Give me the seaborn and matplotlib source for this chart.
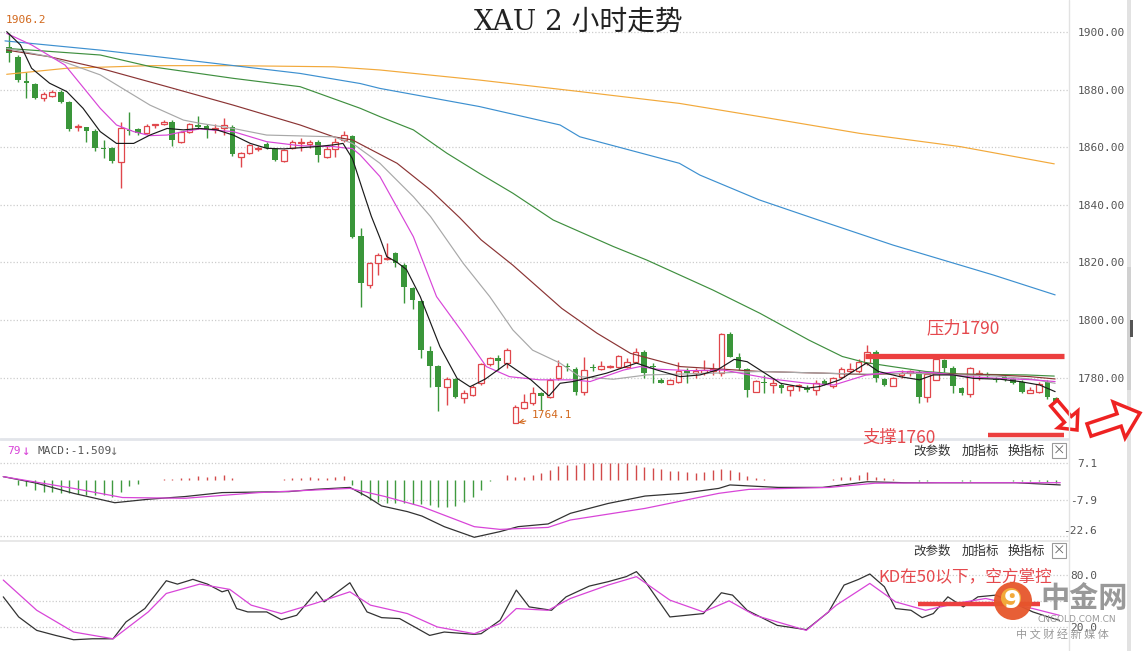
import matplotlib
matplotlib.use("Agg")
import matplotlib.pyplot as plt
from matplotlib.patches import FancyArrow, Circle, Rectangle
import seaborn as sns
import numpy as np
import pandas as pd


# 2h candles (index 0 = left edge)
opens = [1894.9, 1891.4, 1883.0, 1881.9, 1877.2, 1877.9, 1879.3, 1875.6, 1867.0, 1866.9,
         1865.6, 1859.8, 1859.8, 1855.0, 1866.0, 1866.3, 1864.8, 1867.7, 1867.9, 1868.6,
         1861.7, 1865.1, 1867.7, 1867.5, 1866.3, 1866.5, 1867.1, 1856.7, 1857.9, 1859.3,
         1861.0, 1859.4, 1855.2, 1859.6, 1861.3, 1861.2, 1861.9, 1856.7, 1859.4, 1862.5,
         1863.7, 1829.2, 1812.1, 1819.7, 1821.0, 1823.4, 1819.1, 1811.0, 1806.7, 1789.2,
         1784.0, 1776.6, 1779.4, 1772.8, 1773.9, 1778.0, 1784.7, 1786.7, 1785.2, 1764.3,
         1769.3, 1771.1, 1774.8, 1773.4, 1779.7, 1784.1, 1782.9, 1775.1, 1783.8, 1782.9,
         1783.6, 1783.8, 1783.8, 1785.5, 1789.0, 1784.0, 1779.2, 1777.8, 1778.6, 1782.1,
         1781.5, 1781.5, 1782.4, 1781.5, 1795.1, 1787.3, 1782.9, 1775.1, 1778.6, 1777.4,
         1777.4, 1775.7, 1776.9, 1776.3, 1775.7, 1778.9, 1777.1, 1780.1, 1782.1, 1782.1,
         1785.0, 1789.0, 1779.4, 1777.1, 1780.9, 1781.5, 1782.0, 1773.4, 1779.2, 1786.1,
         1783.2, 1776.3, 1774.3, 1781.2, 1781.2, 1779.6, 1780.3, 1779.4, 1778.6, 1774.7,
         1775.1, 1778.6, 1773.0]
highs = [1899.5, 1892.0, 1886.2, 1882.2, 1879.3, 1879.8, 1879.7, 1876.0, 1868.2, 1867.1,
         1866.3, 1862.5, 1860.2, 1868.8, 1872.1, 1866.8, 1867.9, 1868.2, 1869.4, 1869.4,
         1865.6, 1868.4, 1870.9, 1867.9, 1867.9, 1870.0, 1867.7, 1858.4, 1861.0, 1860.5,
         1861.7, 1859.6, 1859.4, 1862.5, 1863.1, 1862.5, 1862.5, 1860.5, 1863.1, 1865.6,
         1864.2, 1831.8, 1820.2, 1823.1, 1826.6, 1823.7, 1819.7, 1811.6, 1806.9, 1791.0,
         1784.4, 1780.3, 1779.7, 1775.5, 1777.4, 1785.2, 1787.0, 1787.8, 1790.2, 1770.5,
         1774.3, 1776.8, 1775.1, 1779.7, 1786.1, 1785.2, 1783.8, 1787.3, 1784.7, 1785.8,
         1784.4, 1787.8, 1786.7, 1790.2, 1789.4, 1785.0, 1779.7, 1779.5, 1785.5, 1783.2,
         1783.2, 1786.1, 1785.0, 1795.4, 1795.9, 1788.4, 1783.2, 1779.2, 1780.9, 1779.7,
         1778.2, 1777.4, 1777.8, 1777.4, 1779.2, 1779.4, 1780.3, 1783.8, 1785.2, 1786.3,
         1791.3, 1789.4, 1779.7, 1780.3, 1782.6, 1782.6, 1782.6, 1782.0, 1787.0, 1786.5,
         1784.0, 1776.8, 1783.8, 1782.7, 1781.8, 1780.3, 1780.8, 1779.8, 1779.0, 1776.8,
         1778.6, 1779.2, 1773.4]
lows = [1889.4, 1882.7, 1877.2, 1876.7, 1876.0, 1877.5, 1875.4, 1865.6, 1865.6, 1861.9,
        1858.7, 1856.1, 1854.4, 1845.7, 1864.2, 1864.2, 1864.4, 1866.8, 1867.7, 1860.5,
        1861.3, 1864.8, 1866.3, 1863.1, 1864.8, 1864.2, 1857.1, 1853.2, 1857.5, 1858.8,
        1859.4, 1855.2, 1855.0, 1859.4, 1858.7, 1859.6, 1855.0, 1856.1, 1856.7, 1861.9,
        1828.4, 1804.6, 1811.0, 1815.6, 1820.8, 1818.5, 1805.8, 1803.7, 1786.7, 1776.8,
        1768.5, 1770.5, 1772.8, 1771.1, 1773.6, 1777.4, 1784.0, 1782.6, 1783.2, 1764.1,
        1769.0, 1770.5, 1768.7, 1772.8, 1779.2, 1782.1, 1774.0, 1774.0, 1782.4, 1782.6,
        1783.2, 1783.2, 1783.4, 1785.2, 1779.7, 1778.0, 1778.0, 1777.6, 1778.2, 1778.0,
        1779.7, 1780.9, 1780.9, 1780.6, 1787.0, 1782.6, 1773.4, 1775.0, 1774.5, 1774.5,
        1774.8, 1773.6, 1775.3, 1775.1, 1774.0, 1777.4, 1776.3, 1779.4, 1781.7, 1781.5,
        1784.4, 1778.6, 1776.9, 1776.9, 1779.7, 1780.6, 1771.1, 1771.6, 1779.0, 1782.0,
        1774.5, 1774.0, 1773.4, 1779.2, 1779.8, 1778.5, 1778.8, 1777.6, 1774.7, 1774.5,
        1774.5, 1772.4, 1770.2]
closes = [1892.6, 1883.3, 1882.2, 1877.2, 1878.3, 1879.3, 1875.8, 1866.3, 1867.5, 1865.6,
          1859.8, 1859.4, 1855.2, 1866.5, 1865.6, 1864.8, 1867.5, 1867.9, 1868.8, 1862.5,
          1865.1, 1867.9, 1867.1, 1866.0, 1866.8, 1867.7, 1857.5, 1857.9, 1860.8, 1859.7,
          1859.6, 1855.5, 1859.0, 1861.7, 1861.9, 1861.7, 1857.3, 1859.4, 1861.9, 1864.2,
          1828.9, 1812.7, 1819.7, 1822.6, 1821.4, 1819.7, 1811.6, 1806.9, 1789.6, 1784.0,
          1776.8, 1779.4, 1773.4, 1774.5, 1776.6, 1784.7, 1786.7, 1785.9, 1789.6, 1769.9,
          1771.6, 1774.5, 1773.6, 1779.2, 1784.0, 1783.6, 1775.1, 1782.6, 1783.2, 1784.0,
          1783.9, 1787.5, 1785.5, 1789.0, 1781.5, 1783.6, 1778.2, 1779.2, 1782.1, 1781.5,
          1782.3, 1782.6, 1782.9, 1795.1, 1787.3, 1783.2, 1775.5, 1778.9, 1778.0, 1778.0,
          1776.5, 1776.9, 1777.3, 1775.7, 1778.2, 1777.8, 1779.7, 1782.9, 1782.9, 1785.5,
          1788.7, 1779.7, 1777.4, 1779.7, 1781.7, 1782.1, 1773.4, 1781.2, 1786.3, 1783.2,
          1776.9, 1774.5, 1783.2, 1781.6, 1780.6, 1779.2, 1779.2, 1778.2, 1775.1, 1775.5,
          1777.8, 1773.4, 1770.5]

# moving averages, sampled points (bar index, price)
ma5_x = [-0.3, 1.3, 2.6, 4.7, 6.7, 8.6, 10.6, 12.5, 14.5, 16.4, 18.4, 20.3, 22.2, 24.2, 26.1,
         28.1, 30.0, 32.0, 33.9, 35.9, 37.8, 38.9, 40.0, 41.2, 42.2, 43.2, 44.0, 45.2, 46.3,
         47.9, 50.2, 52.2, 53.7, 55.5, 58.0, 60.8, 62.9, 64.2, 65.7, 69.6, 73.1, 75.5, 78.2,
         80.5, 82.5, 84.5, 86.0, 88.4, 89.9, 93.0, 94.5, 96.8, 99.9, 101.3, 103.8, 106.1,
         107.7, 110.0, 112.4, 115.5, 117.8, 120.1, 121.9]
ma5_y = [1900.1, 1895.5, 1887.4, 1882.2, 1879.3, 1873.5, 1865.4, 1861.3, 1861.3, 1864.2,
         1866.5, 1866.0, 1866.5, 1866.0, 1864.2, 1861.3, 1859.6, 1859.4, 1859.8, 1860.2,
         1860.8, 1861.3, 1856.0, 1845.0, 1836.0, 1828.5, 1822.0, 1820.0, 1817.5, 1808.1,
         1790.7, 1779.7, 1776.8, 1779.5, 1784.9, 1779.2, 1773.6, 1778.0, 1778.6, 1781.5,
         1785.0, 1782.6, 1780.3, 1780.9, 1782.6, 1786.3, 1785.5, 1780.9, 1778.0, 1776.3,
         1776.9, 1779.2, 1785.0, 1782.1, 1780.3, 1779.2, 1780.9, 1780.9, 1779.7, 1779.4,
         1778.6, 1777.4, 1775.1]
ma10_x = [-0.3, 2.6, 6.5, 10.6, 12.5, 14.5, 16.4, 18.4, 20.3, 22.2, 26.1, 30.0, 33.9, 37.8,
          38.9, 40.0, 40.9, 43.2, 47.1, 49.8, 52.9, 55.6, 58.3, 61.8, 65.7, 67.7, 71.6, 73.5,
          75.5, 79.4, 83.3, 85.2, 89.1, 93.0, 96.1, 99.9, 103.8, 107.7, 111.6, 115.5, 119.4,
          121.9]
ma10_y = [1899.5, 1895.5, 1888.5, 1873.5, 1867.7, 1865.4, 1864.0, 1864.2, 1865.4, 1866.3,
          1865.4, 1861.9, 1860.5, 1860.2, 1859.8, 1859.5, 1857.3, 1849.8, 1828.9, 1808.1,
          1795.4, 1783.8, 1780.3, 1779.2, 1779.2, 1778.6, 1782.6, 1783.8, 1782.9, 1782.4,
          1782.6, 1781.5, 1779.4, 1778.0, 1777.4, 1780.9, 1782.1, 1781.7, 1780.3, 1779.7,
          1779.2, 1778.6]
ma20_x = [-0.3, 4.7, 10.6, 16.4, 20.3, 22.2, 26.1, 30.0, 37.8, 40.0, 43.2, 47.1, 49.1, 52.9,
          56.0, 58.7, 61.0, 64.2, 66.5, 70.4, 74.3, 82.0, 87.5, 95.0, 100.0, 105.0, 110.0,
          115.0, 119.0, 121.9]
ma20_y = [1894.3, 1891.4, 1885.1, 1874.6, 1869.4, 1868.3, 1866.5, 1864.2, 1863.6, 1861.3,
          1854.4, 1842.8, 1835.9, 1819.7, 1808.1, 1796.5, 1789.5, 1785.0, 1780.3, 1779.4,
          1780.9, 1781.5, 1782.1, 1781.5, 1781.2, 1781.5, 1781.0, 1780.5, 1779.5, 1778.0]
ma30_x = [-0.3, 4.7, 10.6, 18.4, 26.1, 33.9, 37.8, 40.0, 45.2, 49.1, 52.5, 55.0, 58.7, 64.4,
          68.5, 72.4, 78.2, 87.5, 95.0, 100.0, 105.0, 110.0, 115.0, 119.0, 121.9]
ma30_y = [1893.7, 1891.4, 1887.4, 1881.0, 1874.6, 1867.7, 1863.6, 1862.5, 1854.4, 1845.1,
          1835.5, 1827.8, 1819.0, 1804.0, 1795.4, 1788.4, 1783.8, 1782.1, 1781.5, 1781.0,
          1781.5, 1781.2, 1780.9, 1780.3, 1779.5]
ma60_x = [-0.3, 10.6, 16.4, 26.1, 33.9, 40.9, 43.2, 47.1, 51.0, 54.8, 58.7, 63.4, 70.4, 74.3,
          82.0, 87.5, 93.2, 97.1, 99.8, 102.9, 106.8, 110.7, 118.5, 121.8]
ma60_y = [1894.3, 1892.0, 1888.0, 1883.9, 1881.0, 1873.5, 1870.6, 1866.0, 1857.9, 1850.9,
          1844.0, 1834.7, 1825.5, 1820.8, 1810.4, 1802.3, 1793.0, 1787.3, 1785.2, 1783.8,
          1782.1, 1781.2, 1780.9, 1780.5]
ma120_x = [-0.5, 10.6, 22.2, 33.9, 40.9, 43.2, 54.8, 64.2, 66.5, 78.1, 80.5, 87.4, 94.3,
           103.0, 114.7, 121.9]
ma120_y = [1896.9, 1893.7, 1889.7, 1885.6, 1882.1, 1880.4, 1874.1, 1867.7, 1863.6, 1854.4,
           1850.3, 1841.7, 1834.7, 1826.0, 1815.6, 1808.7]
ma250_x = [-0.3, 6.7, 16.4, 26.1, 37.8, 43.2, 54.8, 66.5, 78.1, 87.5, 99.1, 110.8, 121.8]
ma250_y = [1885.3, 1887.4, 1888.3, 1888.3, 1887.9, 1886.8, 1883.3, 1879.3, 1875.2, 1870.6,
           1864.8, 1860.2, 1854.2]

# MACD panel
macd_hist = [0.0, -1.76, -2.43, -3.78, -4.46, -4.46, -5.14, -5.14, -5.41, -5.81,
             -5.81, -5.81, -6.49, -4.46, -2.16, -1.35, 0.27, 0.1, 0.54, 0.54,
             0.95, 1.2, 1.9, 1.6, 1.9, 2.3, 0.95, 0.2, 0.2, 0.2,
             0.2, 0.2, 0.54, 0.95, 0.95, 1.35, 0.95, 1.2, 1.35, 1.9,
             -1.76, -5.81, -7.84, -8.51, -8.92, -8.92, -9.19, -9.46, -9.46, -9.86,
             -10.8, -10.8, -10.5, -8.51, -6.49, -3.78, -0.4, 0.1, 2.3, 1.6,
             1.6, 2.3, 2.97, 4.05, 5.68, 6.35, 6.35, 7.0, 7.0, 7.0,
             7.0, 7.0, 7.0, 6.35, 5.4, 5.0, 4.6, 3.65, 3.65, 3.24,
             2.97, 3.24, 4.3, 4.6, 4.05, 3.24, 1.9, 0.95, 0.54, 0.27,
             0.1, 0.1, 0.0, 0.27, 0.1, 0.27, 0.54, 1.35, 1.6, 2.3,
             3.24, 1.6, 0.95, 0.54, 0.27, 0.1, -0.3, -0.4, 0.3, 0.4,
             0.2, -0.3, -0.2, 0.1, 0.1, 0.1, 0.0, -0.1, -0.3, -0.4,
             -0.4, -0.6, -0.9]
dif_x = [-0.7, 3.2, 7.5, 12.3, 16.2, 20.5, 24.8, 32.6, 35.6, 39.7, 41.7, 43.4, 46.4, 48.1,
         50.7, 54.2, 57.2, 59.3, 62.8, 65.4, 69.8, 74.1, 78.4, 82.7, 84.0, 86.2, 89.6, 94.8,
         100.0, 104.3, 108.6, 117.3, 122.5]
dif_y = [1.56, -1.1, -5.2, -9.0, -7.6, -6.5, -4.9, -4.5, -3.6, -2.8, -6.5, -10.3, -12.6, -14.4,
         -18.7, -23.0, -20.7, -18.7, -17.6, -13.3, -9.3, -6.3, -5.2, -3.2, -1.8, -2.2, -2.8, -2.8,
         -0.5, -0.9, -0.9, -0.9, -1.8]
dea_x = [-0.7, 7.5, 13.2, 20.5, 29.1, 39.7, 43.8, 48.1, 54.2, 57.2, 62.8, 65.4, 74.1, 82.7,
         86.2, 95.6, 100.9, 108.6, 122.5]
dea_y = [1.56, -3.2, -6.9, -7.2, -4.9, -3.2, -6.5, -10.6, -18.7, -19.8, -19.0, -16.0, -11.3,
         -5.2, -3.6, -2.8, -1.1, -0.9, -0.9]

# KD panel
k_x = [-0.7, 1.1, 3.2, 5.4, 7.5, 9.7, 12.1, 13.6, 15.8, 18.3, 19.6, 21.4, 23.1, 24.8, 25.5,
       26.5, 27.8, 30.0, 31.7, 33.5, 35.8, 36.7, 39.7, 41.7, 43.4, 45.5, 49.0, 50.7, 54.2,
       55.0, 57.2, 59.1, 60.6, 63.2, 64.9, 67.6, 69.8, 71.9, 73.1, 74.0, 77.0, 80.9, 83.0,
       84.3, 86.0, 89.5, 92.9, 95.5, 97.3, 99.0, 100.3, 102.0, 103.3, 105.1, 106.4, 107.7,
       109.4, 111.2, 112.9, 115.0, 117.0, 119.3, 121.1, 122.4]
k_y = [54.8, 31.6, 16.1, 10.3, 5.3, 6.4, 6.4, 25.8, 41.3, 73.4, 69.5, 75.0, 69.5, 60.6, 62.6,
       41.3, 37.4, 37.4, 28.5, 33.5, 60.6, 49.0, 71.1, 37.4, 30.8, 29.7, 10.3, 14.2, 11.5,
       12.3, 27.7, 62.6, 43.2, 39.3, 54.8, 67.2, 72.3, 78.1, 83.9, 74.2, 31.6, 35.5, 59.5,
       56.8, 39.3, 21.9, 16.9, 37.4, 68.4, 75.0, 81.2, 66.5, 41.3, 39.3, 30.8, 35.5,
       54.8, 43.2, 54.8, 56.8, 48.0, 37.4, 31.6, 27.7]
d_x = [-0.7, 3.2, 7.5, 12.1, 16.2, 18.3, 22.2, 25.7, 28.2, 31.7, 35.6, 39.7, 42.1, 46.4, 49.9,
       54.2, 57.2, 59.1, 62.8, 65.4, 69.8, 73.1, 77.0, 80.9, 83.9, 86.9, 92.9, 96.4, 100.3,
       103.3, 106.8, 110.3, 113.8, 117.0, 119.3, 122.4]
d_y = [74.2, 39.3, 14.2, 6.4, 37.4, 58.7, 69.5, 63.4, 45.2, 35.5, 47.1, 60.6, 45.2, 35.5, 20.0,
       12.3, 23.9, 41.3, 39.3, 52.9, 68.4, 78.1, 51.0, 37.4, 50.2, 33.5, 16.1, 45.2, 70.3,
       49.0, 39.3, 47.1, 52.9, 46.0, 41.3, 33.5]

price_ticks = [1780, 1800, 1820, 1840, 1860, 1880, 1900]
macd_ticks = [-22.6, -7.9, 7.1]
kd_ticks = [20, 50, 80]

RED = "#e0474c"
GREEN = "#3a963a"
ANNO = "#ec3f3f"
MONO = "DejaVu Sans Mono"
CJK = ["Noto Sans CJK SC", "DejaVu Sans"]

sns.set_theme(style="white")
plt.rcParams["font.family"] = CJK

W, H = 1146, 651
fig = plt.figure(figsize=(W / 100, H / 100), dpi=100)


def px_axes(left, top, right, bottom):
    return fig.add_axes([left / W, 1 - bottom / H, (right - left) / W, (bottom - top) / H])


ax = px_axes(0, 0, 1068, 438)
ax_macd = px_axes(0, 440, 1068, 540)
ax_kd = px_axes(0, 542, 1068, 651)

XLIM = (-1.08, 123.4)
for a in (ax, ax_macd, ax_kd):
    a.set_xlim(*XLIM)
    a.set_xticks([])
    sns.despine(ax=a, left=True, bottom=True, right=True, top=True)
    a.yaxis.grid(True, linestyle=(0, (1, 1.6)), color="#cdcdcd", linewidth=0.9)
    a.xaxis.grid(False)
    a.yaxis.tick_right()

# ---- candles ----
df = pd.DataFrame({"o": opens, "h": highs, "l": lows, "c": closes})
df["i"] = np.arange(len(df))
up = df[df["c"] >= df["o"]]
dn = df[df["c"] < df["o"]]
bw = 0.66

ax.vlines(dn["i"], dn["l"], dn["h"], color=GREEN, lw=1.0, zorder=2)
ax.bar(dn["i"], (dn["o"] - dn["c"]).clip(lower=0.3), bottom=dn["c"], width=bw,
       color=GREEN, linewidth=0, zorder=2)
ax.vlines(up["i"], up["c"], up["h"], color=RED, lw=1.0, zorder=2)
ax.vlines(up["i"], up["l"], up["o"], color=RED, lw=1.0, zorder=2)
ax.bar(up["i"], (up["c"] - up["o"]).clip(lower=0.3), bottom=up["o"], width=bw,
       facecolor="white", edgecolor=RED, linewidth=0.9, zorder=2)

ma_lines = [
    (ma250_x, ma250_y, "#f2a93b"),
    (ma120_x, ma120_y, "#3d90d0"),
    (ma60_x, ma60_y, "#3f8f3f"),
    (ma30_x, ma30_y, "#8b3434"),
    (ma20_x, ma20_y, "#a8a8a8"),
    (ma10_x, ma10_y, "#d845d8"),
    (ma5_x, ma5_y, "#1a1a1a"),
]
for xs, ys, col in ma_lines:
    sns.lineplot(x=xs, y=ys, ax=ax, color=col, linewidth=0.85, sort=False,
                 estimator=None, legend=False, zorder=3)

ax.set_ylim(1759.0, 1911.1)
ax.set_yticks(price_ticks)
ax.set_yticklabels([f"{v:.2f}" for v in price_ticks])
ax.tick_params(axis="y", length=0, pad=7, labelsize=8, labelcolor="#555555")
for lbl in ax.get_yticklabels():
    lbl.set_fontfamily(MONO)
ax.set_ylabel("")

# pressure / support levels
ax.hlines(1787.5, 99.7, 122.9, color=ANNO, lw=3.8, zorder=4)
ax.hlines(1760.1, 114.1, 122.9, color=ANNO, lw=3.2, zorder=4, clip_on=False)
ax.text(111.2, 1797.0, "压力1790", color="#e5484d", fontsize=12.5, ha="center", va="center")
ax.annotate("1764.1", xy=(59, 1764.1), xytext=(60.9, 1767.0), color="#d2691e",
            fontsize=8, family=MONO, va="center",
            arrowprops=dict(arrowstyle="->", color="#d2691e", lw=0.8))

# ---- MACD ----
hist = pd.Series(macd_hist)
hi = np.arange(len(hist))
ax_macd.vlines(hi[hist >= 0], 0, hist[hist >= 0], color="#d24a4a", lw=1.0)
ax_macd.vlines(hi[hist < 0], 0, hist[hist < 0], color="#3f9a3f", lw=1.0)
sns.lineplot(x=dif_x, y=dif_y, ax=ax_macd, color="#333333", linewidth=0.9, sort=False,
             estimator=None, legend=False)
sns.lineplot(x=dea_x, y=dea_y, ax=ax_macd, color="#d845d8", linewidth=0.9, sort=False,
             estimator=None, legend=False)
ax_macd.set_ylim(-24.1, 16.4)
ax_macd.set_yticks(macd_ticks)
ax_macd.set_yticklabels([f"{v:.1f}" for v in macd_ticks])
ax_macd.tick_params(axis="y", length=0, pad=21, labelsize=8, labelcolor="#555555")
for lbl in ax_macd.get_yticklabels():
    lbl.set_fontfamily(MONO)
    lbl.set_ha("right")
ax_macd.get_yticklabels()[0].set_va("bottom")

# ---- KD ----
sns.lineplot(x=k_x, y=k_y, ax=ax_kd, color="#333333", linewidth=0.9, sort=False,
             estimator=None, legend=False)
sns.lineplot(x=d_x, y=d_y, ax=ax_kd, color="#d845d8", linewidth=0.9, sort=False,
             estimator=None, legend=False)
ax_kd.set_ylim(-7.7, 118.1)
ax_kd.set_yticks(kd_ticks)
ax_kd.set_yticklabels(["20.0", "", "80.0"])
ax_kd.tick_params(axis="y", length=0, pad=21, labelsize=8, labelcolor="#555555")
for lbl in ax_kd.get_yticklabels():
    lbl.set_fontfamily(MONO)
    lbl.set_ha("right")
ax_kd.hlines(46.5, 105.9, 120.1, color=ANNO, lw=3.2, zorder=4)
ax_kd.text(111.4, 77.7, "KD在50以下，空方掌控", color="#e5484d", fontsize=12,
           ha="center", va="center")

# ---- overlay in pixel space: frames, headers, arrows, watermark ----
ov = fig.add_axes([0, 0, 1, 1], zorder=10)
ov.set_xlim(0, W)
ov.set_ylim(H, 0)
ov.axis("off")
ov.patch.set_alpha(0)

ov.plot([0, 1068], [439, 439], color="#e2e5ea", lw=2)
ov.plot([0, 1068], [541, 541], color="#e4e4e4", lw=1.2)
ov.plot([1069, 1069], [0, H], color="#e2e2e2", lw=1)
ov.add_patch(Rectangle((1127, 0), 4, H, color="#e2e2e2", lw=0))
ov.add_patch(Rectangle((1127, 267), 4, 123, color="#d0d0d0", lw=0))
ov.add_patch(Rectangle((1130, 320), 3, 17, color="#555555", lw=0))

ov.text(578, 22, "XAU 2 小时走势", fontsize=20, ha="center", va="center",
        color="#222222", family=["DejaVu Serif", "Noto Sans CJK SC"])
ov.text(6, 20, "1906.2", fontsize=8, color="#d2691e", family=MONO, va="center")

ov.text(7, 451, "79", fontsize=8, color="#d845d8", family=MONO, va="center")
ov.text(21, 451, "↓", fontsize=10, color="#d845d8", family=MONO, va="center")
ov.text(37, 451, "MACD:-1.509", fontsize=8, color="#555555", family=MONO, va="center")
ov.text(109, 451, "↓", fontsize=10, color="#777777", family=MONO, va="center")

for yh in (451, 551):
    for xc, s in ((932, "改参数"), (980, "加指标"), (1026, "换指标")):
        ov.text(xc, yh, s, fontsize=9, color="#333333", ha="center", va="center")
    ov.add_patch(Rectangle((1052, yh - 8), 14, 15, facecolor="white", edgecolor="#999999", lw=0.8))
    ov.text(1059, yh, "×", fontsize=9, color="#666666", ha="center", va="center")

ov.text(899, 438, "支撑1760", color="#e5484d", fontsize=12.5, ha="center", va="center")

ov.add_patch(FancyArrow(1054, 403, 23, 27, width=9, head_width=26, head_length=14,
                        length_includes_head=True, facecolor="white", edgecolor="#ee2222", lw=2.5))
ov.add_patch(FancyArrow(1089, 430, 51, -17, width=13, head_width=38, head_length=22,
                        length_includes_head=True, facecolor="white", edgecolor="#ee2222", lw=2.5))

# watermark
ov.add_patch(Circle((1013, 601), 19, facecolor="#e6562b", edgecolor="none", alpha=0.95))
ov.add_patch(Circle((1011, 598), 10, facecolor="#f4b23c", edgecolor="none", alpha=0.9))
ov.text(1012, 601, "9", fontsize=18, color="white", weight="bold", ha="center", va="center",
        family="DejaVu Sans")
ov.text(1084, 598, "中金网", fontsize=21, color="#8e8e8e", weight="bold", ha="center",
        va="center", alpha=0.9)
ov.text(1077, 620, "CNGOLD.COM.CN", fontsize=6.5, color="#9a9a9a", ha="center", va="center",
        family="DejaVu Sans")
ov.text(1062, 634, "中 文 财 经 新 媒 体", fontsize=8, color="#9a9a9a", ha="center", va="center")

fig.savefig("out.png", dpi=100)
